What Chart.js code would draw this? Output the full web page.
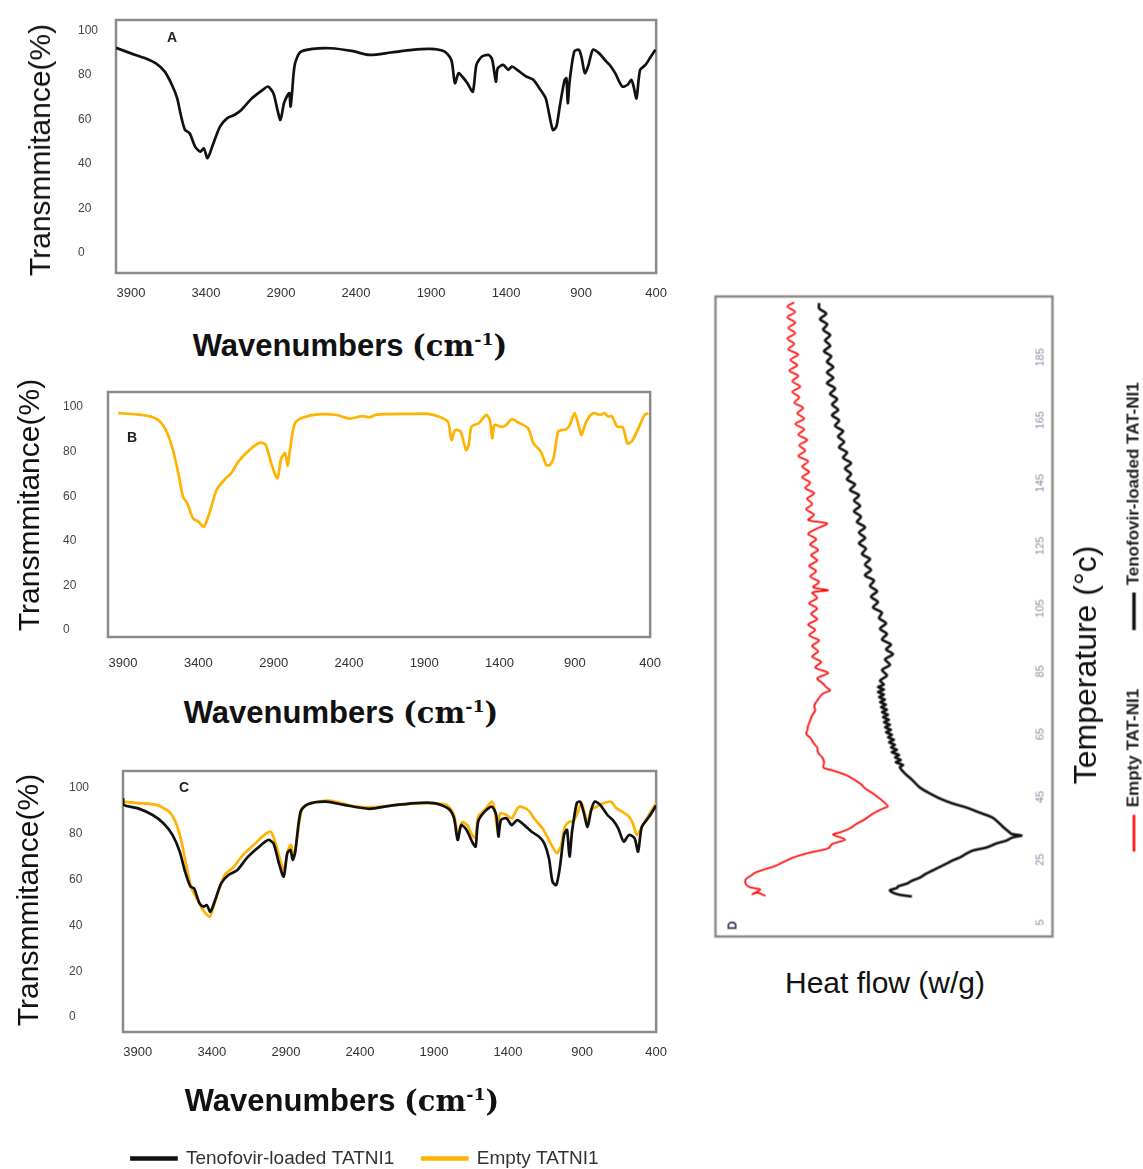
<!DOCTYPE html>
<html><head><meta charset="utf-8">
<script src="https://cdn.jsdelivr.net/npm/chart.js@4.4.1/dist/chart.umd.min.js"></script>
<style>
html,body{margin:0;padding:0;background:#fff;}
body{width:1143px;height:1169px;overflow:hidden;position:relative;font-family:"Liberation Sans",Arial,sans-serif;}
canvas{position:absolute;}
.ytitle{position:absolute;transform:translate(-50%,-50%) rotate(-90deg);white-space:nowrap;font-size:30px;color:#111;line-height:1;}
.xtitle{position:absolute;transform:translate(-50%,-50%);white-space:nowrap;font-size:31px;font-weight:bold;color:#111;line-height:1;}
.xtitle .u{font-family:"DejaVu Serif","Liberation Serif",serif;font-size:29px;}
.xtitle sup{font-size:60%;}
</style></head>
<body>
<canvas id="cA" width="680" height="310" style="left:0;top:0"></canvas>
<canvas id="cB" width="680" height="300" style="left:0;top:375px"></canvas>
<canvas id="cC" width="680" height="443" style="left:0;top:735px"></canvas>
<canvas id="cD" width="670" height="447" style="left:593.5px;top:391.5px;transform:rotate(-90deg)"></canvas>

<div class="ytitle" style="left:40px;top:150px">Transmmitance(%)</div>
<div class="ytitle" style="left:29px;top:505px">Transmmitance(%)</div>
<div class="ytitle" style="left:28px;top:900px">Transmmitance(%)</div>
<div class="xtitle" style="left:350px;top:345px">Wavenumbers <span class="u">(cm<sup>-1</sup>)</span></div>
<div class="xtitle" style="left:341px;top:712px">Wavenumbers <span class="u">(cm<sup>-1</sup>)</span></div>
<div class="xtitle" style="left:342px;top:1100px">Wavenumbers <span class="u">(cm<sup>-1</sup>)</span></div>
<div class="ytitle" style="left:1085px;top:665px;font-size:32px">Temperature (°c)</div>
<div class="xtitle" style="left:885px;top:983px;font-size:30px;font-weight:normal">Heat flow (w/g)</div>

<script>
// ---------- tick labels ----------
const wnTicks = [3900, 3400, 2900, 2400, 1900, 1400, 900, 400];
const transTicks = [0, 20, 40, 60, 80, 100];
const tempTicks = [5, 25, 45, 65, 85, 105, 125, 145, 165, 185];

// ---------- Panel A : FTIR ----------
const aWn = [4000,3900,3805,3734,3675,3627,3592,3568,3540,3509,3473,3438,3414,3390,3355,3307,3260,3212,3165,3094,3022,2987,2951,2927,2904,2880,2856,2844,2837,2828,2809,2773,2690,2571,2429,2310,2168,2026,1907,1812,1765,1741,1717,1693,1658,1622,1598,1563,1515,1492,1468,1456,1420,1385,1361,1326,1266,1219,1171,1136,1112,1088,1065,1041,1010,998,989,977,946,915,898,875,851,822,780,732,709,673,626,590,566,550,531,507,471,436,405];
const aT = [92.2,89.7,87.5,85.2,81.5,75.5,69.5,62.0,55.3,53.8,47.8,45.5,47.0,42.6,48.5,56.8,60.5,62.0,64.3,69.5,73.3,74.8,71.8,65.2,59.8,67.4,71.0,71.8,65.8,71.0,84.5,90.2,91.7,92.0,90.8,89.0,90.1,91.3,91.7,90.6,86.7,76.3,80.8,79.3,76.3,72.5,84.5,88.2,89.0,86.7,77.0,83.0,84.5,82.3,83.8,82.3,79.3,77.8,73.3,69.5,62.0,55.3,56.8,66.5,77.8,78.5,67.3,77.0,90.5,91.3,88.2,80.8,84.5,91.3,89.7,86.0,84.5,80.8,74.8,75.6,77.8,74.8,69.5,82.3,84.5,88.2,91.3];

// ---------- Panel B : FTIR ----------
const bWn = [3932,3811,3715,3654,3606,3569,3533,3502,3473,3436,3400,3364,3327,3279,3219,3182,3134,3061,2989,2953,2916,2875,2851,2824,2807,2795,2759,2699,2602,2481,2396,2312,2263,2215,1997,1876,1804,1743,1719,1695,1659,1622,1605,1586,1538,1489,1465,1448,1434,1392,1356,1320,1271,1211,1175,1126,1090,1066,1042,1011,982,958,934,902,873,856,824,780,732,703,679,655,619,582,551,522,473,437,412];
const bT = [97.2,96.7,95.7,93.4,88.2,80.7,70.3,59.8,56.8,50.1,48.6,46.3,52.3,62.8,68.0,70.3,75.5,80.7,84.0,83.0,74.7,68.0,76.7,79.3,73.5,79.2,92.7,95.4,96.7,96.4,94.8,95.9,95.4,96.6,96.9,96.9,95.7,93.4,85.2,89.7,88.9,80.7,83.0,91.2,92.7,96.4,94.2,86.0,91.9,91.1,91.9,94.5,92.9,90.5,83.7,80.0,74.0,74.0,77.0,88.9,89.7,90.0,91.9,97.2,91.2,87.4,93.4,97.2,96.4,97.2,95.7,96.0,91.2,90.9,83.7,84.5,91.2,96.4,97.2];

// ---------- Panel C : FTIR (two series) ----------
const cLoadedWn = [4000,3995,3898,3800,3727,3666,3617,3581,3544,3520,3483,3454,3435,3410,3374,3337,3288,3227,3166,3093,3020,2984,2947,2915,2891,2869,2854,2837,2801,2752,2630,2508,2338,2191,2021,1899,1801,1765,1740,1716,1680,1643,1619,1602,1558,1509,1480,1465,1448,1411,1375,1338,1290,1241,1192,1156,1124,1100,1075,1051,1022,1002,985,968,936,912,888,863,839,815,778,729,692,656,619,583,546,522,497,449,400];
const cLoadedT = [95.5,92.6,91.1,88.2,84.6,79.5,72.2,63.5,56.9,56.2,49.6,48.2,48.9,46.0,51.8,58.4,62.0,64.2,69.3,73.7,77.3,75.8,67.1,61.3,71.5,72.9,68.6,72.2,89.7,92.9,94.0,92.6,90.9,92.3,93.4,93.4,90.9,86.8,77.3,83.8,81.7,76.6,74.4,85.3,89.7,91.8,88.2,78.8,86.0,86.8,83.8,86.0,83.8,80.9,78.8,75.9,69.3,59.1,57.6,64.9,79.5,81.7,70.0,80.9,93.4,94.0,89.0,83.0,90.3,94.0,92.6,88.2,86.0,82.4,76.6,79.5,78.1,72.2,83.0,87.3,92.4];
const cEmptyWn = [4000,3898,3776,3690,3642,3605,3569,3537,3495,3459,3415,3386,3349,3313,3252,3191,3118,3045,3001,2967,2935,2911,2886,2867,2845,2825,2789,2728,2606,2435,2313,2143,1972,1814,1765,1740,1709,1675,1643,1619,1602,1558,1509,1490,1473,1453,1411,1375,1326,1265,1216,1168,1131,1100,1070,1041,1017,985,961,936,904,880,863,839,802,753,704,668,631,583,558,529,497,449,400];
const cEmptyT = [94.0,93.4,92.6,89.7,84.6,76.6,65.0,56.2,51.1,46.7,43.8,48.9,56.2,62.0,65.6,70.7,75.1,79.5,80.9,75.1,67.8,64.2,72.9,75.1,70.0,78.1,91.1,93.4,94.5,92.0,91.6,92.6,93.4,92.6,88.2,80.2,85.0,83.8,79.5,78.1,87.5,90.4,94.0,90.4,82.4,89.0,88.2,86.8,91.8,90.4,86.0,82.4,78.1,74.4,71.5,75.1,83.0,85.3,85.3,88.2,93.4,88.2,84.6,90.3,91.8,93.4,94.0,91.1,89.7,87.5,84.6,79.5,83.0,88.2,93.4];

// ---------- Panel D : DSC ----------
const dEmptyTemp = [13.5,14.5,14.0,15.5,16.2,17.0,18.7,19.8,20.9,22.2,23.0,24.1,25.7,27.3,28.6,30.0,31.4,33.0,33.7,35.0,36.5,37.5,39.7,41.3,42.0,43.9,46.1,47.5,49.3,51.8,53.4,54.4,56.0,57.6,59.0,60.7,62.3,63.9,65.0,66.2,67.8,69.3,71.0,72.5,74.0,75.7,77.0,78.0,78.9,80.0,81.1,82.8,84.5,86.2,88.0,89.7,91.4,93.1,94.8,96.5,98.2,99.9,101.6,103.3,105.0,106.7,108.4,110.1,110.8,111.8,113.5,115.2,116.9,118.6,120.3,122.0,123.7,125.4,127.1,128.8,130.5,132.1,133.2,134.9,136.6,138.3,140.0,141.7,143.4,145.1,146.8,148.5,150.2,151.9,153.6,155.3,157.0,158.7,160.4,162.1,163.8,165.5,167.2,168.9,170.6,172.3,174.0,175.7,177.4,179.1,180.8,182.5,184.2,185.9,187.6,189.3,191.0,192.7,194.4,196.1,197.8,199.5,201.2,202.5];
const dEmptyHF = [-0.50,-0.42,-0.37,-0.45,-0.35,-0.31,-0.30,-0.35,-0.40,-0.52,-0.60,-0.67,-0.78,-0.95,-1.13,-1.17,-1.30,-1.18,-1.25,-1.35,-1.42,-1.48,-1.58,-1.68,-1.73,-1.67,-1.58,-1.51,-1.45,-1.32,-1.18,-1.08,-1.09,-1.07,-1.03,-1.02,-0.98,-0.95,-0.91,-0.92,-0.93,-0.95,-0.97,-1.00,-0.99,-1.02,-1.05,-1.08,-1.15,-1.11,-1.08,-1.02,-1.13,-1.00,-1.06,-0.97,-1.03,-0.97,-1.04,-0.94,-1.00,-0.93,-1.02,-0.96,-1.02,-0.94,-1.02,-0.97,-1.13,-0.98,-1.04,-0.95,-1.01,-0.94,-1.02,-0.96,-1.03,-0.95,-1.01,-0.93,-1.02,-1.12,-0.93,-0.99,-0.91,-0.97,-0.92,-0.99,-0.90,-0.95,-0.87,-0.94,-0.87,-0.93,-0.83,-0.90,-0.84,-0.92,-0.83,-0.89,-0.80,-0.89,-0.82,-0.88,-0.79,-0.84,-0.77,-0.85,-0.77,-0.83,-0.74,-0.82,-0.75,-0.83,-0.73,-0.79,-0.72,-0.80,-0.73,-0.80,-0.72,-0.80,-0.72,-0.79];
const dLoadedTemp = [13.3,13.8,14.5,15.3,16.0,16.5,17.4,18.3,19.3,20.5,21.6,22.7,23.8,24.8,25.7,26.8,27.9,28.9,30.2,31.1,32.1,32.7,33.2,33.7,35.0,36.5,38.4,40.0,41.6,42.9,44.5,46.1,48.0,50.2,52.5,54.4,55.2,56.0,56.8,57.6,58.4,59.2,60.0,60.8,61.6,62.4,63.2,64.0,64.8,65.6,66.4,67.2,68.0,68.8,69.6,70.4,71.2,72.0,72.8,73.6,74.4,75.2,76.0,76.8,77.6,78.4,79.2,80.0,80.8,82.0,83.7,85.4,87.1,88.8,90.5,92.0,93.5,95.2,96.9,98.6,100.3,102.0,103.7,105.4,107.1,108.8,110.5,112.2,113.9,115.6,117.3,119.0,120.7,122.4,124.1,125.8,127.5,129.2,130.9,132.6,134.3,136.0,137.7,139.4,141.1,142.8,144.5,146.2,147.9,149.6,151.3,153.0,154.7,156.4,158.1,159.8,161.5,163.2,164.9,166.6,168.3,170.0,171.7,173.4,175.1,176.8,178.5,180.2,181.9,183.6,185.3,187.0,188.7,190.4,192.1,193.8,195.5,197.2,198.9,200.6,202.3];
const dLoadedHF = [-1.97,-1.85,-1.78,-1.75,-1.82,-1.83,-1.92,-1.97,-2.05,-2.11,-2.18,-2.25,-2.32,-2.38,-2.45,-2.51,-2.58,-2.72,-2.82,-2.92,-2.98,-3.07,-2.97,-2.95,-2.90,-2.85,-2.78,-2.65,-2.52,-2.38,-2.25,-2.15,-2.05,-1.98,-1.90,-1.85,-1.88,-1.81,-1.86,-1.80,-1.84,-1.77,-1.82,-1.76,-1.80,-1.74,-1.79,-1.73,-1.77,-1.71,-1.76,-1.70,-1.75,-1.69,-1.74,-1.68,-1.73,-1.67,-1.72,-1.66,-1.71,-1.65,-1.70,-1.64,-1.69,-1.63,-1.69,-1.63,-1.69,-1.65,-1.72,-1.67,-1.75,-1.70,-1.78,-1.71,-1.76,-1.67,-1.72,-1.65,-1.71,-1.64,-1.67,-1.58,-1.63,-1.56,-1.62,-1.55,-1.59,-1.50,-1.56,-1.50,-1.55,-1.47,-1.51,-1.44,-1.50,-1.44,-1.50,-1.42,-1.46,-1.39,-1.45,-1.39,-1.44,-1.35,-1.40,-1.32,-1.36,-1.30,-1.36,-1.28,-1.32,-1.24,-1.29,-1.23,-1.28,-1.20,-1.24,-1.17,-1.23,-1.17,-1.22,-1.15,-1.20,-1.12,-1.18,-1.12,-1.18,-1.12,-1.16,-1.09,-1.15,-1.10,-1.15,-1.08,-1.12,-1.05,-1.11,-1.04,-1.04];

// ---------- helpers ----------
const FONT = '"Liberation Sans", Arial, sans-serif';
Chart.defaults.font.family = FONT;
const pts = (xs, ys) => xs.map((x, i) => ({x: x, y: ys[i]}));

const boxPlugin = {
  id: 'box',
  beforeDatasetsDraw(chart, args, o) {
    const a = chart.chartArea, ctx = chart.ctx;
    ctx.save();
    ctx.strokeStyle = o.color || '#8a8a8a';
    ctx.lineWidth = o.width || 2.5;
    ctx.strokeRect(a.left, a.top, a.right - a.left, a.bottom - a.top + (o.extend || 0));
    ctx.restore();
  },
  afterDatasetsDraw(chart, args, o) {
    if (!o.label) return;
    const ctx = chart.ctx;
    ctx.save();
    ctx.font = o.labelFont || ('bold 14px ' + FONT);
    ctx.fillStyle = o.labelColor || '#222';
    ctx.textAlign = 'center';
    ctx.textBaseline = 'middle';
    ctx.fillText(o.label, o.lx, o.ly);
    ctx.restore();
  }
};

function ftir(id, datasets, c) {
  return new Chart(document.getElementById(id), {
    type: 'line',
    data: {datasets: datasets},
    plugins: [boxPlugin],
    options: {
      responsive: false, animation: false, devicePixelRatio: 1,
      layout: {padding: {left: c.padL, top: c.padT, right: c.padR, bottom: 0}},
      elements: {point: {radius: 0}, line: {tension: 0.25}},
      plugins: {
        tooltip: {enabled: false},
        legend: c.legend || {display: false},
        box: {label: c.label, lx: c.lx, ly: c.ly}
      },
      scales: {
        x: {
          type: 'linear', reverse: true, min: 400, max: 4000,
          afterBuildTicks: s => { s.ticks = wnTicks.map(v => ({value: v})); },
          afterFit: s => { s.height = c.xH; },
          grid: {display: false, drawTicks: false}, border: {display: false},
          ticks: {padding: c.xPad, color: '#333', font: {size: 13}, autoSkip: false, maxRotation: 0,
                  callback: v => String(v)}
        },
        y: {
          min: c.yMin, max: c.yMax,
          afterBuildTicks: s => { s.ticks = transTicks.map(v => ({value: v})); },
          afterFit: s => { s.width = c.yW; },
          grid: {display: false, drawTicks: false}, border: {display: false},
          ticks: {crossAlign: 'far', padding: 0, color: '#444', font: {size: 12}}
        }
      }
    }
  });
}

const BLACK = '#111111', GOLD = '#FFB300';

ftir('cA', [
  {label: 'A', data: pts(aWn, aT), borderColor: BLACK, backgroundColor: BLACK, borderWidth: 2.7, fill: false}
], {padL: 78, padT: 20, padR: 23, yW: 38, xH: 37, xPad: 13, yMin: -9, yMax: 104.7, label: 'A', lx: 172, ly: 38});

ftir('cB', [
  {label: 'B', data: pts(bWn, bT), borderColor: GOLD, backgroundColor: GOLD, borderWidth: 2.7, fill: false}
], {padL: 63, padT: 17, padR: 28, yW: 45, xH: 38, xPad: 19, yMin: -3.1, yMax: 106.7, label: 'B', lx: 132, ly: 63});

ftir('cC', [
  {label: 'Tenofovir-loaded TATNI1', data: pts(cLoadedWn, cLoadedT), borderColor: BLACK, backgroundColor: BLACK, borderWidth: 2.7, fill: false},
  {label: 'Empty TATNI1', data: pts(cEmptyWn, cEmptyT), borderColor: GOLD, backgroundColor: GOLD, borderWidth: 2.7, fill: false}
], {padL: 69, padT: 36, padR: 19, yW: 54, xH: 89, xPad: 13, yMin: -6.5, yMax: 107.4, label: 'C', lx: 184, ly: 53,
    legend: {display: true, position: 'bottom',
             labels: {boxWidth: 45, boxHeight: 2, padding: 28, color: '#333', font: {size: 19}}}});

// Panel D (drawn unrotated, canvas rotated -90deg by CSS)
new Chart(document.getElementById('cD'), {
  type: 'line',
  data: {datasets: [
    {label: 'Empty TAT-NI1', data: pts(dEmptyTemp, dEmptyHF), borderColor: '#ff0000', backgroundColor: '#ff0000', borderWidth: 1.7, fill: false},
    {label: 'Tenofovir-loaded TAT-NI1', data: pts(dLoadedTemp, dLoadedHF), borderColor: '#111111', backgroundColor: '#111111', borderWidth: 2.6, fill: false}
  ]},
  plugins: [boxPlugin],
  options: {
    responsive: false, animation: false, devicePixelRatio: 1,
    layout: {padding: {left: 14, right: 16, top: 10, bottom: 0}},
    elements: {point: {radius: 0}, line: {tension: 0.3}},
    plugins: {
      tooltip: {enabled: false},
      legend: {display: true, position: 'bottom',
               labels: {boxWidth: 35, boxHeight: 1, padding: 60, color: '#222', font: {size: 17, weight: 'bold'}}},
      box: {extend: 23, label: 'D', lx: 25, ly: 28, labelFont: 'bold 12px ' + FONT, labelColor: '#2a3350'}
    },
    scales: {
      x: {
        type: 'linear', min: 0.54, max: 204.4,
        afterBuildTicks: s => { s.ticks = tempTicks.map(v => ({value: v})); },
        afterFit: s => { s.height = 36; },
        grid: {display: false, drawTicks: false}, border: {display: false},
        ticks: {padding: 4, color: '#8390a6', font: {size: 11}, autoSkip: false, maxRotation: 0,
                callback: v => String(v)}
      },
      y: {display: false, min: -3.15, max: 0}
    }
  }
});
</script>
</body></html>
